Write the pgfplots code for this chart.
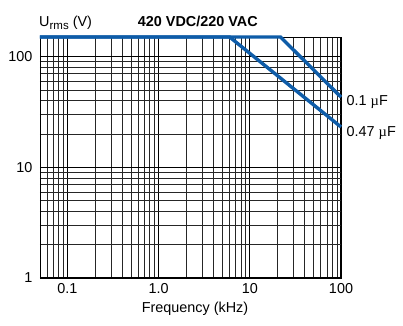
\documentclass[border=0pt]{standalone}
\usepackage{fontspec}
\setmainfont{Liberation Sans}
\newfontfamily\serifmu{Liberation Serif}
\usepackage{pgfplots}
\pgfplotsset{compat=1.18}
\definecolor{lineblue}{RGB}{14,92,168}
\begin{document}
\fontsize{14.4}{17}\selectfont
\begin{tikzpicture}
\useasboundingbox (-40pt,-47pt) rectangle (363pt,278pt);
\begin{axis}[
  at={(0pt,0pt)}, anchor=south west,
  scale only axis, width=301pt, height=241pt,
  xmode=log, ymode=log,
  xmin=0.05, xmax=100, ymin=1, ymax=150,
  xtick={0.1,1,10,100}, xticklabels={0.1,1.0,10,100},
  ytick={1,10,100}, yticklabels={1,10,100},
  minor xtick={0.06,0.07,0.08,0.09,0.2,0.3,0.4,0.5,0.6,0.7,0.8,0.9,2,3,4,5,6,7,8,9,20,30,40,50,60,70,80,90},
  minor ytick={2,3,4,5,6,7,8,9,20,30,40,50,60,70,80,90},
  major tick length=0pt, minor tick length=0pt,
  grid=both,
  major grid style={black, line width=1.2pt},
  minor grid style={black!85, line width=0.6pt},
  axis line style={black, line width=0.8pt},
  clip=false,
  /pgf/number format/assume math mode=true,
  ticklabel style={font=\fontsize{14.4}{17}\selectfont},
  yticklabel style={xshift=-2.5pt},
]
\addplot[lineblue, line width=3.4pt] coordinates {(0.05,150) (6.0,150) (100,23.1)};
\addplot[lineblue, line width=3.4pt] coordinates {(0.05,150) (21.7,150) (100,43)};
\end{axis}
\node[anchor=base west, inner sep=0pt] at (-1pt,251.3pt) {U\raisebox{-2.5pt}{\fontsize{11.5}{12}\selectfont rms} (V)};
\node[anchor=base west, inner sep=0pt, font=\bfseries] at (97.7pt,251.3pt) {420 VDC/220 VAC};
\node[anchor=base, inner sep=0pt] at (155pt,-34pt) {Frequency (kHz)};
\node[anchor=west, inner sep=0pt] at (306.5pt,176pt) {0.1 {\serifmu µ}F};
\node[anchor=west, inner sep=0pt] at (306.5pt,145pt) {0.47 {\serifmu µ}F};
\end{tikzpicture}
\end{document}
